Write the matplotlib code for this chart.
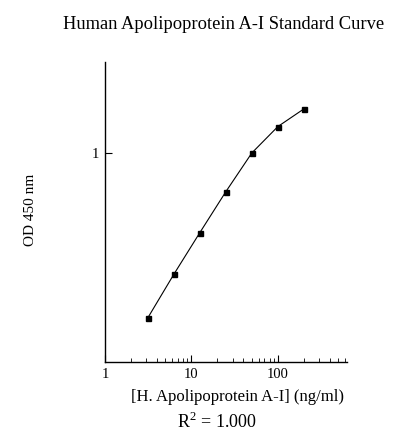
import numpy as np
import matplotlib
matplotlib.use("Agg")
import matplotlib.pyplot as plt
from matplotlib.ticker import FixedLocator, NullFormatter, NullLocator

plt.rcParams['font.family'] = ['Liberation Serif', 'DejaVu Serif']
plt.rcParams['mathtext.fontset'] = 'custom'
plt.rcParams['mathtext.rm'] = 'Liberation Serif'

# standard concentrations (ng/ml) and OD
conc = [3.125, 6.25, 12.5, 25, 50, 100, 200]
od = [0.219, 0.327, 0.48, 0.70, 1.0, 1.275, 1.50]

fig = plt.figure(figsize=(4.01, 4.44), dpi=100)
ax = fig.add_axes([0.2618, 0.1847, 0.6035, 0.6757])

ax.plot(conc, od, color='black', lw=0.8)
ax.plot(conc, od, 's', color='black', ms=3.6)

ax.set_xscale('log')
ax.set_yscale('log')
ax.set_xlim(1, 630)
ax.set_ylim(0.146, 2.31)

ax.spines['top'].set_visible(False)
ax.spines['right'].set_visible(False)
for s in ['left', 'bottom']:
    ax.spines[s].set_linewidth(1.0)

ax.xaxis.set_major_locator(FixedLocator([1, 10, 100]))
ax.set_xticklabels(['1', '10', '100'])
ax.xaxis.set_minor_formatter(NullFormatter())
ax.yaxis.set_major_locator(FixedLocator([1]))
ax.set_yticklabels(['1'])
ax.yaxis.set_minor_locator(NullLocator())

ax.tick_params(axis='both', which='major', direction='in', length=5, width=0.8,
               labelsize=10.5, pad=4)
ax.tick_params(axis='x', which='minor', direction='in', length=3, width=0.6)

fig.text(0.558, 0.944, 'Human Apolipoprotein A-I Standard Curve',
         ha='center', va='center', fontsize=13.3)
fig.text(0.593, 0.106, '[H. Apolipoprotein A-I] (ng/ml)',
         ha='center', va='center', fontsize=12)
fig.text(0.542, 0.05, r'R$^{\mathrm{2}}$ = 1.000', ha='center', va='center',
         fontsize=13)
fig.text(0.075, 0.527, 'OD 450 nm', ha='center', va='center',
         rotation=90, fontsize=11)

fig.savefig('out.png', dpi=100)
